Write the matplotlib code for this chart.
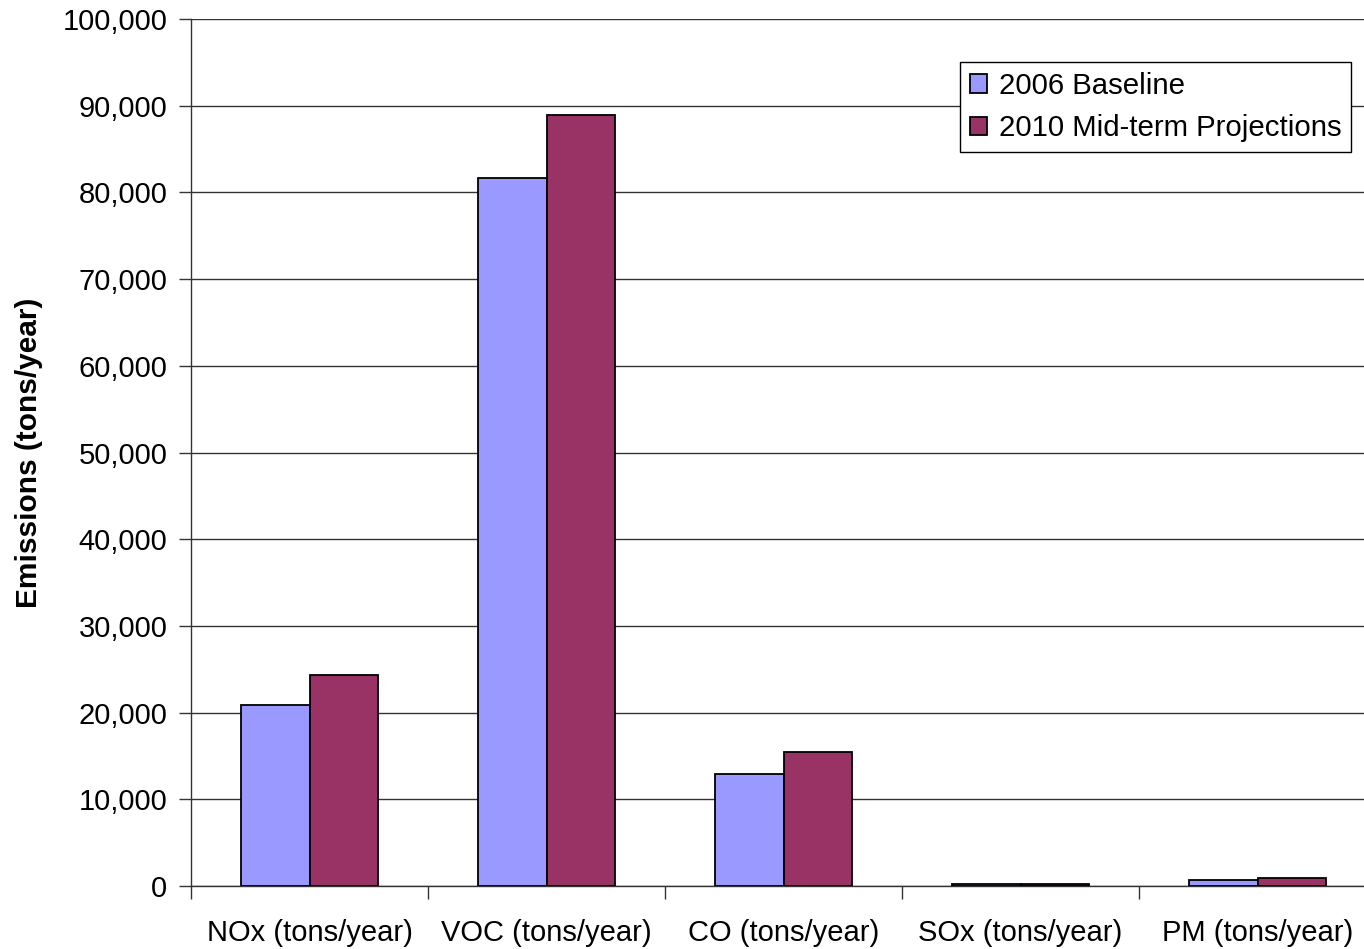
import matplotlib
matplotlib.use('Agg')
import matplotlib.pyplot as plt
import numpy as np
from matplotlib.ticker import FuncFormatter, FixedLocator

plt.rcParams['font.family'] = ['Liberation Sans', 'DejaVu Sans']

categories = ['NOx (tons/year)', 'VOC (tons/year)', 'CO (tons/year)',
              'SOx (tons/year)', 'PM (tons/year)']
baseline_2006 = [20900, 81700, 12900, 250, 700]
midterm_2010 = [24300, 88900, 15450, 250, 900]
series_labels = ['2006 Baseline', '2010 Mid-term Projections']

fs = 21

fig = plt.figure(figsize=(13.64, 9.49), dpi=100)
# right edge runs past the figure edge
ax = fig.add_axes([191/1364, 1-886/949, (1376-191)/1364, (886-19)/949])

x = np.arange(len(categories))
w = 0.287
ax.bar(x - w/2, baseline_2006, w, color='#9999FF', edgecolor='black', linewidth=1.3,
       label=series_labels[0], zorder=3)
ax.bar(x + w/2, midterm_2010, w, color='#993366', edgecolor='black', linewidth=1.3,
       label=series_labels[1], zorder=3)

ax.set_xlim(-0.5, len(categories) - 0.5)
ax.set_ylim(0, 100000)
ax.set_yticks(np.arange(0, 100001, 10000))
ax.yaxis.set_major_formatter(FuncFormatter(lambda v, p: f'{int(v):,}'))
ax.yaxis.grid(True, color='#333333', linewidth=1.0, zorder=0)
ax.set_axisbelow(True)

# category labels centred, tick marks at boundaries
ax.set_xticks(x)
ax.set_xticklabels(categories, fontsize=fs)
ax.tick_params(axis='x', length=0, pad=24)
ax.xaxis.set_minor_locator(FixedLocator(np.arange(-0.5, len(categories), 1)))
ax.tick_params(axis='x', which='minor', length=9, width=1.0, color='#333333')
ax.tick_params(axis='y', labelsize=fs, length=9, width=1.0, pad=8, color='#333333')

for s in ['top', 'right']:
    ax.spines[s].set_visible(False)
ax.spines['left'].set_color('#333333')
ax.spines['bottom'].set_color('#333333')
ax.spines['left'].set_linewidth(1.0)
ax.spines['bottom'].set_linewidth(1.0)

ax.set_ylabel('Emissions (tons/year)', fontsize=21.5, fontweight='bold', labelpad=14)

leg = ax.legend(loc='upper left', bbox_to_anchor=((960-191)/1185, 1-(62-19)/867),
                fontsize=21.2, frameon=True, fancybox=False, borderaxespad=0,
                handlelength=0.6, handleheight=0.6, handletextpad=0.38,
                borderpad=0.33, labelspacing=0.5)
leg.get_frame().set_edgecolor('black')
leg.get_frame().set_linewidth(1.0)
leg.get_frame().set_alpha(1)

fig.savefig('out.png', dpi=100)
